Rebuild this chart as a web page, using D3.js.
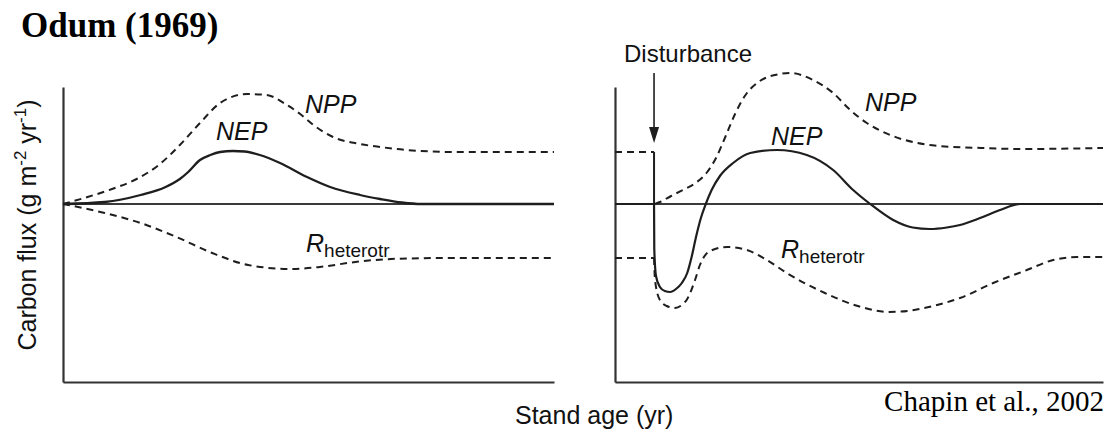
<!DOCTYPE html>
<html><head><meta charset="utf-8">
<script src="https://cdn.jsdelivr.net/npm/d3@7"></script>
<style>body{margin:0;background:#fff}svg{display:block}</style>
</head><body>
<script>
// ---- data (x = relative stand age 0..100, y = relative carbon flux) ----
const odumNPP = [[0,0],[5,7],[10,15],[15,25],[19.5,39],[23.8,59],[27.9,81],[32,101],[37.5,110],[41.5,109],[45.6,99],[48.3,90],[51,79],[55,67],[60.5,60],[64.6,57],[70,54],[80,52],[100,52]];
const odumNEP = [[0,0],[8.5,2],[15.8,9],[20.9,17],[23.8,25],[25.5,32],[27.9,44],[30,49],[32,52],[34.6,53],[37,52.5],[40.1,49],[44.2,41],[49.7,27],[54.4,17],[60.5,9],[64.6,5],[69,1.5],[73,0],[100,0]];
const odumR = [[0,0],[8.5,-9],[15.8,-19],[23.1,-33],[30.4,-49],[37.7,-61],[46.4,-65],[52.3,-63],[59.5,-58],[66.8,-55],[77.8,-54],[100,-54]];

const disturbanceAge = 8;
const chapinNPPpre = [[0,52],[8,52]];
const chapinNPPdrop = [[8,52],[8,0]];
const chapinNPP = [[8.2,0],[9.2,2],[11.5,8],[13.9,14],[16.5,21],[18.9,32],[20.7,46],[22.6,67],[24.6,90],[26.6,108],[29.4,122],[33.8,130],[35.9,131],[40.6,124],[44.7,111],[48.2,94],[51.6,81],[56.4,69],[61.9,61],[66.6,58],[75,56],[83,55],[100,56]];
const chapinNEPpre = [[0,0],[8,0]];
const chapinNEP = [[8,0],[8.05,-45],[8.4,-72],[9.2,-83],[10.2,-87],[11.3,-88],[12.5,-85],[13.7,-79],[14.8,-69],[15.7,-53],[16.6,-33],[17.6,-14],[18.6,0],[19.8,14],[21.5,28],[24.2,41],[27.7,51],[33.2,54],[39.3,49],[44.7,34],[48.8,14],[52.3,0],[57,-16],[61,-23.5],[64.5,-25],[68,-23.5],[70.7,-21],[74.8,-14],[78.9,-6],[83,0],[100,0]];
const chapinRpre = [[0,-54],[8,-54]];
const chapinR = [[8,-54],[8.2,-76],[9.2,-96],[10.6,-102],[12.3,-104],[13.7,-101],[14.8,-95],[16.4,-76],[17.4,-61],[19.5,-47],[23,-43],[27,-46],[31.1,-56],[35.2,-69],[43,-89],[50.4,-103],[56.2,-108],[61.3,-106],[66,-101],[70.7,-94],[77.5,-79],[84.4,-66],[89.8,-56],[94.7,-53],[100,-53]];

const titleText = "Odum (1969)";
const sourceText = "Chapin et al., 2002";
const xLabel = "Stand age (yr)";
const disturbanceLabel = "Disturbance";

// ---- drawing ----
const W = 1112, H = 430;
const svg = d3.select("body").append("svg").attr("width", W).attr("height", H);

const y = d3.scaleLinear().domain([-178, 117]).range([382, 87]);
const xL = d3.scaleLinear().domain([0, 100]).range([63, 554]);
const xR = d3.scaleLinear().domain([0, 100]).range([615, 1103]);

const ink = "#1e1e1e";
const dash = "7,5";

function panel(x){
  const g = svg.append("g");
  g.append("g").attr("transform", `translate(0,${y(-178)})`)
    .call(d3.axisBottom(x).tickValues([]).tickSizeOuter(0));
  g.append("g").attr("transform", `translate(${x(0)},0)`)
    .call(d3.axisLeft(y).tickValues([]).tickSizeOuter(0));
  g.selectAll(".domain").attr("stroke", "#333").attr("stroke-width", 2.2);
  g.append("line").attr("x1", x(0)).attr("x2", x(100)).attr("y1", y(0)).attr("y2", y(0))
    .attr("stroke", "#3a3a3a").attr("stroke-width", 2.2);
  return g;
}
function curve(g, x, data, dashed, w){
  const line = d3.line().x(d => x(d[0])).y(d => y(d[1])).curve(d3.curveMonotoneX);
  g.append("path").attr("d", line(data)).attr("fill", "none").attr("stroke", ink)
    .attr("stroke-width", w || 2).attr("stroke-dasharray", dashed ? dash : null);
}
function straight(g, x, data, dashed){
  const line = d3.line().x(d => x(d[0])).y(d => y(d[1]));
  g.append("path").attr("d", line(data)).attr("fill", "none").attr("stroke", ink)
    .attr("stroke-width", 2).attr("stroke-dasharray", dashed ? dash : null);
}

const gl = panel(xL);
curve(gl, xL, odumNPP, true);
curve(gl, xL, odumR, true);
curve(gl, xL, odumNEP, false, 2.3);

const gr = panel(xR);
straight(gr, xR, chapinNPPpre, true);
straight(gr, xR, chapinRpre, true);
straight(gr, xR, chapinNEPpre, false);
straight(gr, xR, chapinNPPdrop, false);
curve(gr, xR, chapinNPP, true);
curve(gr, xR, chapinR, true);
curve(gr, xR, chapinNEP, false, 2.2);

// disturbance arrow
const ax0 = xR(disturbanceAge);
svg.append("line").attr("x1", ax0).attr("x2", ax0).attr("y1", 73).attr("y2", 130)
  .attr("stroke", ink).attr("stroke-width", 1.6);
svg.append("path").attr("d", `M${ax0-5},127 L${ax0+5},127 L${ax0},143 Z`).attr("fill", ink);

// labels
const sans = "'Liberation Sans', Arial, sans-serif";
function lab(x0, y0, t, size, opts){
  opts = opts || {};
  return svg.append("text").attr("x", x0).attr("y", y0).text(t)
    .attr("font-family", opts.serif ? "'Liberation Serif', serif" : sans)
    .attr("font-size", size).attr("font-style", opts.italic ? "italic" : "normal")
    .attr("font-weight", opts.bold ? "bold" : "normal")
    .attr("text-anchor", opts.anchor || "start").attr("fill", opts.fill || "#111");
}
function rLabel(x0, y0){
  const t = svg.append("text").attr("x", x0).attr("y", y0).attr("font-family", sans).attr("fill", "#111");
  t.append("tspan").text("R").attr("font-size", 25).attr("font-style", "italic");
  t.append("tspan").text("heterotr").attr("font-size", 19).attr("dy", 5);
}

lab(305, 113, "NPP", 25, {italic: true});
lab(216, 140, "NEP", 25, {italic: true});
rLabel(306, 252);
lab(865, 111, "NPP", 25, {italic: true});
lab(771, 145, "NEP", 25, {italic: true});
rLabel(781, 258);

lab(624, 62, disturbanceLabel, 24);
lab(515, 424, xLabel, 25);
lab(1104, 411, sourceText, 29, {serif: true, anchor: "end", fill: "#000"});
lab(21, 37, titleText, 35, {serif: true, bold: true, fill: "#000"});

// y label
const yl = svg.append("text").attr("transform", "translate(36,225) rotate(-90)")
  .attr("text-anchor", "middle").attr("font-family", sans).attr("font-size", 25).attr("fill", "#111");
yl.append("tspan").text("Carbon flux (g m");
yl.append("tspan").text("-2").attr("font-size", 17).attr("dy", -10);
yl.append("tspan").text(" yr").attr("dy", 10);
yl.append("tspan").text("-1").attr("font-size", 17).attr("dy", -10);
yl.append("tspan").text(")").attr("dy", 10);
</script>
</body></html>
